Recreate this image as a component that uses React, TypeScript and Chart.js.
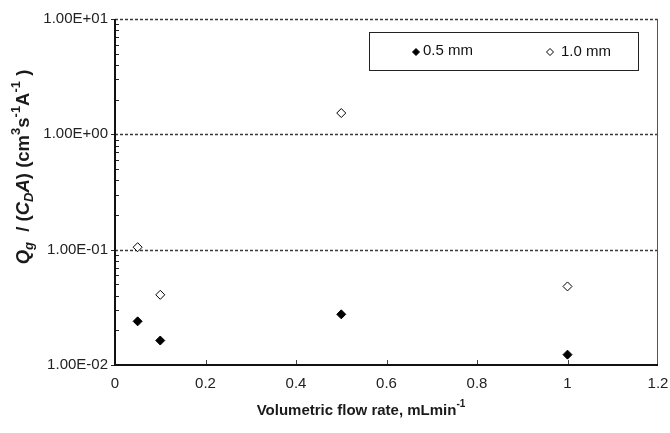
import React, { useEffect, useRef } from 'react';
import { Chart, registerables } from 'chart.js';

Chart.register(...registerables);

// ---- data ----
const flowRates = [0.05, 0.1, 0.5, 1.0];
const series05 = [0.0239, 0.0163, 0.0275, 0.0123];
const series10 = [0.105, 0.0406, 1.53, 0.048];
const seriesLabels = ['0.5 mm', '1.0 mm'];
const xTicks = [0, 0.2, 0.4, 0.6, 0.8, 1, 1.2];
const yDecades = [0.01, 0.1, 1, 10];
const yTickLabels = ['1.00E-02', '1.00E-01', '1.00E+00', '1.00E+01'];

const FONT = '"Liberation Sans", Arial, sans-serif';

type Seg = { t: string; it?: boolean; sub?: boolean; sup?: boolean };

function drawRich(ctx: CanvasRenderingContext2D, segs: Seg[], cx: number, cy: number, size: number, rotate: boolean) {
  const fontFor = (s: Seg) =>
    `${s.it ? 'italic ' : ''}bold ${s.sub || s.sup ? Math.round(size * 0.68) : size}px ${FONT}`;
  const widths = segs.map((s) => {
    ctx.font = fontFor(s);
    return ctx.measureText(s.t).width;
  });
  const total = widths.reduce((a, b) => a + b, 0);
  ctx.save();
  ctx.translate(cx, cy);
  if (rotate) ctx.rotate(-Math.PI / 2);
  ctx.textBaseline = 'middle';
  ctx.textAlign = 'left';
  ctx.fillStyle = '#1a1a1a';
  let x = -total / 2;
  segs.forEach((s, i) => {
    ctx.font = fontFor(s);
    const dy = s.sub ? size * 0.32 : s.sup ? -size * 0.42 : 0;
    ctx.fillText(s.t, x, dy);
    x += widths[i];
  });
  ctx.restore();
}

function diamond(ctx: CanvasRenderingContext2D, x: number, y: number, r: number, filled: boolean) {
  ctx.beginPath();
  ctx.moveTo(x, y - r);
  ctx.lineTo(x + r, y);
  ctx.lineTo(x, y + r);
  ctx.lineTo(x - r, y);
  ctx.closePath();
  ctx.fillStyle = filled ? '#000' : '#fff';
  ctx.fill();
  ctx.lineWidth = 1;
  ctx.strokeStyle = '#000';
  ctx.stroke();
}

const framePlugin = {
  id: 'frame',
  beforeDatasetsDraw(chart: any) {
    const { ctx, chartArea } = chart;
    const { left, right, top, bottom } = chartArea;
    const ys = chart.scales.y;
    const xs = chart.scales.x;
    ctx.save();
    // dotted gridlines
    ctx.strokeStyle = '#3a3a3a';
    ctx.lineWidth = 1.5;
    ctx.setLineDash([3, 2]);
    yDecades.slice(1).forEach((v) => {
      const y = Math.round(ys.getPixelForValue(v)) + 0.5;
      ctx.beginPath();
      ctx.moveTo(left, y);
      ctx.lineTo(right, y);
      ctx.stroke();
    });
    ctx.setLineDash([]);
    // right border
    ctx.strokeStyle = '#555';
    ctx.lineWidth = 1;
    ctx.beginPath();
    ctx.moveTo(right - 0.5, top);
    ctx.lineTo(right - 0.5, bottom);
    ctx.stroke();
    // minor y ticks (inside)
    ctx.strokeStyle = '#222';
    ctx.lineWidth = 1;
    for (let d = 0; d < yDecades.length - 1; d++) {
      for (let k = 2; k <= 9; k++) {
        const y = Math.round(ys.getPixelForValue(yDecades[d] * k)) + 0.5;
        ctx.beginPath();
        ctx.moveTo(left, y);
        ctx.lineTo(left + 4, y);
        ctx.stroke();
      }
    }
    // major y ticks (outside)
    yDecades.forEach((v) => {
      const y = Math.round(ys.getPixelForValue(v)) + 0.5;
      ctx.beginPath();
      ctx.moveTo(left - 4, y);
      ctx.lineTo(left, y);
      ctx.stroke();
    });
    // x ticks (inside)
    ctx.strokeStyle = '#444';
    xTicks.slice(1, -1).forEach((v) => {
      const x = Math.round(xs.getPixelForValue(v)) + 0.5;
      ctx.beginPath();
      ctx.moveTo(x, bottom);
      ctx.lineTo(x, bottom - 5);
      ctx.stroke();
    });
    // axes
    ctx.strokeStyle = '#111';
    ctx.lineWidth = 2;
    ctx.beginPath();
    ctx.moveTo(left, top);
    ctx.lineTo(left, bottom);
    ctx.lineTo(right, bottom);
    ctx.stroke();
    ctx.restore();
  },
  afterDraw(chart: any) {
    const { ctx } = chart;
    ctx.save();
    // legend
    ctx.strokeStyle = '#222';
    ctx.lineWidth = 1;
    ctx.strokeRect(369.5, 32.5, 269, 38);
    diamond(ctx, 416, 52, 3.5, true);
    diamond(ctx, 550, 52, 3.5, false);
    ctx.fillStyle = '#111';
    ctx.font = `15px ${FONT}`;
    ctx.textBaseline = 'middle';
    ctx.textAlign = 'left';
    ctx.fillText(seriesLabels[0], 423, 51);
    ctx.fillText(seriesLabels[1], 561, 52);
    ctx.restore();
    // axis titles
    drawRich(ctx, [
      { t: 'Volumetric flow rate, mLmin' },
      { t: '-1', sup: true },
    ], 361, 411, 15, false);
    drawRich(ctx, [
      { t: 'Q', it: true },
      { t: 'g', it: true, sub: true },
      { t: '  / (' },
      { t: 'C', it: true },
      { t: 'D', it: true, sub: true },
      { t: 'A', it: true },
      { t: ') (cm' },
      { t: '3', sup: true },
      { t: 's' },
      { t: '-1', sup: true },
      { t: 'A' },
      { t: '-1', sup: true },
      { t: ' )' },
    ], 24, 167, 18.5, true);
  },
};

export default function App() {
  const ref = useRef<HTMLCanvasElement>(null);
  useEffect(() => {
    if (!ref.current) return;
    const chart = new Chart(ref.current, {
      type: 'scatter',
      data: {
        datasets: [
          {
            label: seriesLabels[0],
            data: flowRates.map((x, i) => ({ x, y: series05[i] })),
            pointStyle: 'rectRot',
            pointRadius: 4.5,
            backgroundColor: '#000',
            borderColor: '#000',
            borderWidth: 1,
          },
          {
            label: seriesLabels[1],
            data: flowRates.map((x, i) => ({ x, y: series10[i] })),
            pointStyle: 'rectRot',
            pointRadius: 4.5,
            backgroundColor: '#fff',
            borderColor: '#000',
            borderWidth: 1,
          },
        ],
      },
      options: {
        responsive: false,
        animation: false,
        layout: { padding: { top: 19, right: 12, left: 0, bottom: 0 } },
        plugins: { legend: { display: false }, tooltip: { enabled: false } },
        scales: {
          x: {
            type: 'linear',
            min: 0,
            max: 1.2,
            afterBuildTicks: (s: any) => {
              s.ticks = xTicks.map((v) => ({ value: v }));
            },
            afterFit: (s: any) => {
              s.height = 68;
              s.paddingLeft = 0;
              s.paddingRight = 0;
            },
            ticks: {
              padding: 10,
              maxRotation: 0,
              autoSkip: false,
              color: '#222',
              font: { family: FONT, size: 15 },
              callback: (v: any) => String(v),
            },
            grid: { display: false, drawTicks: false },
            border: { display: false },
          },
          y: {
            type: 'logarithmic',
            min: 0.01,
            max: 10,
            afterBuildTicks: (s: any) => {
              s.ticks = yDecades.map((v) => ({ value: v }));
            },
            afterFit: (s: any) => {
              s.width = 115;
              s.paddingTop = 0;
              s.paddingBottom = 0;
            },
            ticks: {
              padding: 7,
              autoSkip: false,
              color: '#222',
              font: { family: FONT, size: 15 },
              callback: (_v: any, i: number) => yTickLabels[i],
            },
            grid: { display: false, drawTicks: false },
            border: { display: false },
          },
        },
      },
      plugins: [framePlugin],
    });
    return () => chart.destroy();
  }, []);
  return (
    <div style={{ position: 'fixed', left: 0, top: 0, width: 670, height: 433, background: '#fff' }}>
      <canvas ref={ref} width={670} height={433} />
    </div>
  );
}
